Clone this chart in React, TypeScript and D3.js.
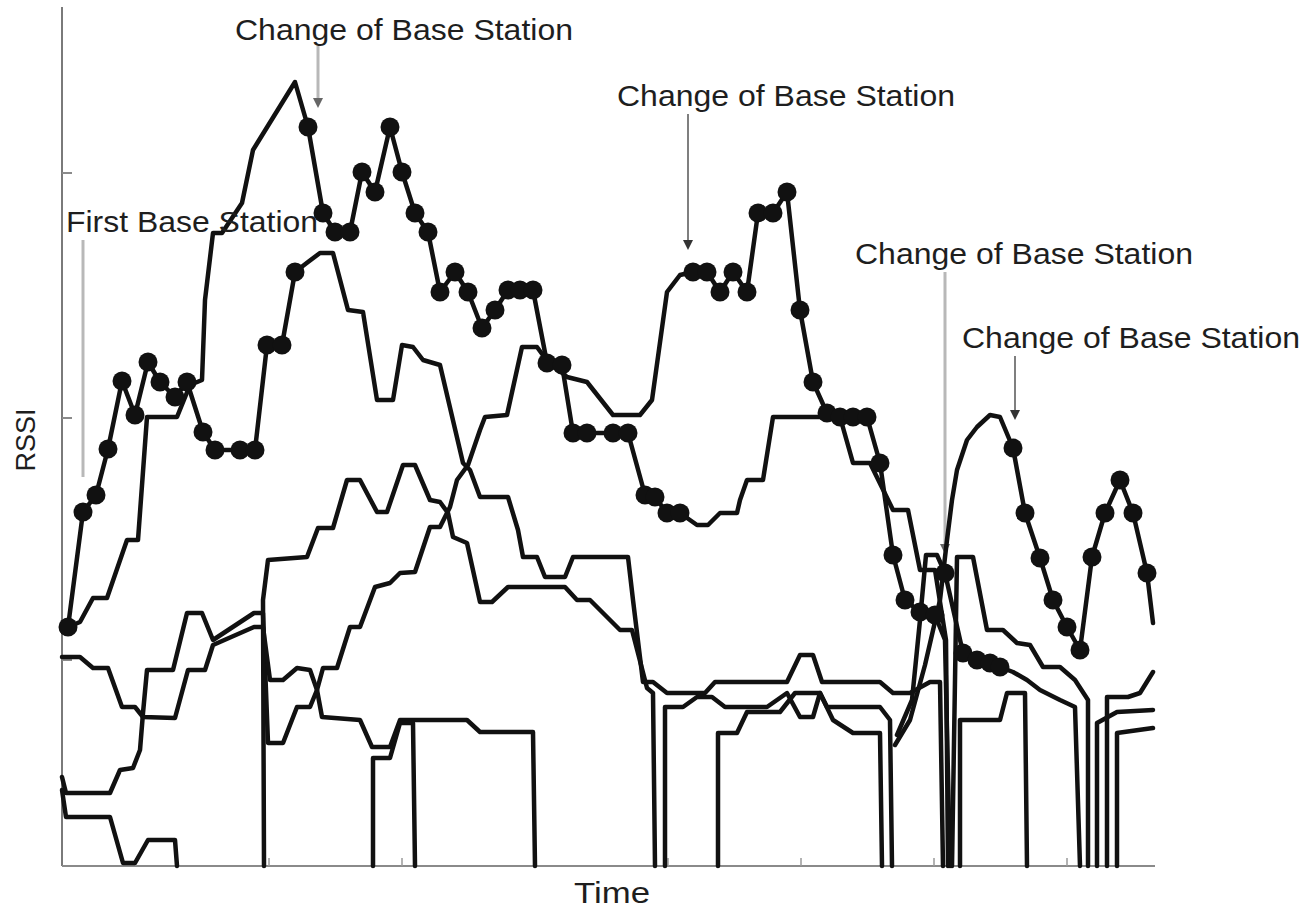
import React from "react";
import * as d3 from "d3";

type P = [number, number];

// time (x) in 0.1 s units, RSSI (y) in dB above the floor
const stationA: P[] = [[0.1,23.4],[0.6,23.9],[2.1,35.4],[3.4,37.1],[4.6,41.7],[6.0,48.5],[7.3,45.1],[8.6,50.4],[9.8,48.4],[11.3,46.9],[12.5,48.4],[14.1,43.4],[15.3,41.6],[17.8,41.6],[19.3,41.6],[20.5,52.1],[22.0,52.1],[23.3,59.4],[24.6,60.4],[25.8,61.3],[27.1,61.3],[28.6,55.6],[30.1,55.4],[31.5,46.6],[33.1,46.6],[34.0,52.1],[35.1,51.9],[36.1,50.6],[37.8,50.1],[40.1,40.3],[40.8,39.6],[41.8,36.9],[44.6,36.9],[45.6,33.6],[46.1,30.9],[47.5,30.9],[48.3,28.9],[50.3,28.9],[51.1,30.9],[56.6,30.9],[57.1,26.6],[58.1,18.4],[59.1,18.4],[60.5,17.3],[64.3,17.3],[65.3,18.4],[67.8,18.4],[72.5,18.4],[73.8,21.1],[75.1,21.1],[76.0,18.4],[81.8,18.4],[83.1,17.3],[84.8,17.3],[86.8,18.4],[87.8,18.4],[88.1,0]];
const stationB: P[] = [[0.1,23.4],[0.6,23.9],[1.8,24.4],[3.1,26.8],[4.5,26.8],[6.5,32.6],[7.6,32.6],[8.5,44.9],[11.5,44.9],[12.8,48.1],[14.0,48.6],[14.3,56.6],[15.1,63.3],[16.0,63.3],[18.0,66.3],[19.1,71.6],[23.3,78.4],[24.6,73.9],[26.1,65.3],[27.3,63.4],[28.8,63.4],[30.0,69.4],[31.3,67.4],[32.8,73.9],[34.0,69.4],[35.3,65.3],[36.6,63.4],[37.8,57.4],[39.3,59.4],[40.6,57.4],[42.0,53.8],[43.3,55.6],[44.6,57.6],[45.8,57.6],[47.1,57.6],[48.5,50.3],[50.0,50.1],[51.1,43.3],[52.5,43.3],[55.1,43.3],[56.6,43.3],[58.3,37.1],[59.3,36.9],[60.5,35.3],[61.8,35.3],[63.5,34.1],[64.6,34.1],[65.8,35.3],[67.5,35.3],[67.8,36.6],[68.5,38.6],[70.1,38.6],[71.1,44.9],[75.1,44.9],[77.8,44.9],[79.1,40.3],[80.8,40.3],[83.1,35.6],[84.6,35.6],[85.8,29.6],[87.3,29.6],[88.4,22.6],[88.6,0]];
const stationC: P[] = [[0.0,8.9],[0.4,7.3],[4.8,7.3],[5.8,9.6],[7.1,9.8],[7.8,11.6],[8.1,15.3],[8.5,19.6],[11.1,19.6],[12.5,25.3],[14.0,25.3],[15.1,22.6],[19.2,25.3],[20.1,25.3],[20.6,12.3],[22.1,12.3],[23.5,15.9],[24.8,15.9],[25.5,17.6],[26.1,19.8],[27.5,19.8],[28.8,23.9],[29.8,23.9],[31.3,27.9],[32.8,28.3],[33.8,29.3],[35.3,29.4],[36.8,33.9],[37.8,33.9],[38.8,35.9],[39.5,38.6],[40.6,40.1],[41.8,43.6],[42.3,44.9],[44.5,45.1],[46.0,51.9],[47.5,51.9],[48.3,50.8],[50.5,48.9],[52.5,48.4],[55.1,45.1],[57.8,45.1],[59.0,46.6],[60.5,57.4],[61.8,59.1],[63.1,59.4],[64.5,59.4],[65.8,57.4],[67.1,59.4],[68.5,57.4],[69.6,65.3],[71.1,65.3],[72.5,67.4],[73.8,55.6],[75.1,48.4],[76.5,45.3],[77.8,44.9],[79.1,44.9],[80.5,44.9],[81.8,40.3],[83.1,31.1],[84.3,26.6],[85.8,25.4],[87.3,25.1],[88.3,22.6],[88.8,0]];
const stationD: P[] = [[83.5,13.1],[85.0,16.6],[85.8,24.6],[86.4,31.1],[87.5,31.1],[88.3,29.3],[90.1,21.3],[91.5,20.6],[92.8,20.3],[93.8,19.9],[95.1,19.4],[96.5,18.6],[97.8,17.6],[99.8,16.6],[101.3,15.9],[101.8,0]];
const stationE: P[] = [[83.3,12.1],[84.8,14.6],[86.3,20.1],[87.8,26.6],[88.5,32.6],[89.0,36.6],[89.5,39.6],[90.5,42.6],[91.5,43.9],[92.8,45.1],[93.8,44.9],[95.1,41.8],[96.3,35.3],[97.8,30.8],[99.1,26.6],[100.5,23.9],[101.8,21.6],[103.0,30.9],[104.3,35.3],[105.8,38.6],[107.1,35.3],[108.5,29.3],[109.1,24.3]];
const stationF: P[] = [[89.0,0],[89.5,30.9],[91.1,30.9],[92.5,23.6],[94.1,23.6],[95.5,22.3],[96.8,22.1],[98.1,19.9],[99.8,19.9],[101.3,18.6],[102.6,16.6],[102.6,0]];
const stationG: P[] = [[20.2,0],[20.1,26.6],[20.6,30.6],[24.5,30.9],[25.6,33.8],[27.1,33.8],[28.5,38.6],[29.8,38.6],[31.5,35.4],[32.5,35.4],[34.1,40.1],[35.3,40.1],[36.8,36.6],[37.8,36.4],[38.6,35.3],[39.1,32.9],[40.5,32.3],[41.8,26.4],[43.0,26.4],[44.6,27.9],[50.3,27.9],[51.5,26.6],[52.8,26.6],[55.8,23.6],[57.0,23.6],[58.5,17.8],[59.1,17.3],[59.3,0]];
const stationQ: P[] = [[0.0,20.9],[1.8,20.9],[3.1,19.8],[4.6,19.8],[6.0,15.9],[7.3,15.9],[8.1,14.9],[11.3,14.8],[12.6,19.6],[14.3,19.6],[15.1,22.1],[19.2,23.9],[20.1,23.9],[20.8,18.6],[22.1,18.6],[23.5,19.8],[24.8,19.6],[25.5,17.6],[26.0,14.9],[29.8,14.6],[31.0,11.9],[32.8,11.9],[33.8,14.6],[40.5,14.6],[41.8,13.4],[47.1,13.4],[47.3,0]];
const stationR: P[] = [[0.0,7.6],[0.4,4.9],[4.8,4.9],[6.1,0.3],[7.3,0.3],[8.6,2.6],[11.3,2.6],[11.5,0]];
const stationS: P[] = [[31.1,0],[31.1,10.8],[32.8,10.8],[33.8,14.3],[35.1,14.3],[35.3,0]];
const stationU: P[] = [[60.3,0],[60.3,15.9],[62.1,15.9],[63.5,16.9],[65.0,16.9],[66.3,15.9],[70.5,15.9],[72.5,17.3],[73.8,14.9],[75.1,14.9],[75.8,17.3],[76.5,15.9],[81.8,15.9],[82.8,14.6],[83.0,0]];
const stationV: P[] = [[65.6,0],[65.6,13.3],[67.5,13.3],[68.5,15.4],[71.8,15.4],[73.3,17.3],[75.8,17.3],[77.1,14.6],[79.1,13.3],[81.8,13.3],[82.0,0]];
const stationW: P[] = [[89.8,0],[89.8,14.6],[93.8,14.6],[94.5,17.3],[96.3,17.3],[96.5,0]];
const stationK1: P[] = [[104.5,0],[104.5,16.9],[106.6,16.9],[107.8,17.3],[109.1,19.4]];
const stationK2: P[] = [[103.5,0],[103.5,14.3],[105.5,15.4],[109.1,15.6]];
const stationK3: P[] = [[105.5,0],[105.5,13.3],[109.1,13.8]];

const allStations: P[][] = [stationA, stationB, stationC, stationD, stationE, stationF, stationG, stationQ, stationR, stationS, stationU, stationV, stationW, stationK1, stationK2, stationK3];

// serving station intervals (dots)
const servingStations: P[][] = [stationA, stationB, stationC, stationD, stationE];
const servingFrom = [0.6, 24.6, 63.1, 88.3, 95.1];
const servingTo = [23.3, 61.8, 87.3, 93.8, 108.5];

const xTicks = [7.4, 20.7, 34.0, 47.3, 60.6, 73.9, 87.2, 100.5];
const yTicks = [20.6, 44.8, 69.3];

// annotations: handover time, arrow tip value
const annLabels = ["Change of Base Station", "Change of Base Station", "Change of Base Station", "Change of Base Station", "First Base Station"];
const annTime = [25.6, 62.6, 88.3, 95.3, 2.1];
const annTip = [75.8, 61.6, 31.2, 44.6, 38.9];

export default function App() {
  const W = 1307, H = 910;
  const x = d3.scaleLinear().domain([0, 109.3]).range([62, 1155]);
  const y = d3.scaleLinear().domain([0, 85.9]).range([866, 7]);
  const line = d3.line<P>().x(d => x(d[0])).y(d => y(d[1]));

  const dots: P[] = [];
  servingStations.forEach((s, i) => {
    s.forEach(p => { if (p[0] >= servingFrom[i] - 1e-6 && p[0] <= servingTo[i] + 1e-6) dots.push(p); });
  });

  const annLayout = [
    { lx: 235, ly: 40, top: 46, w: 338, kind: "light" },
    { lx: 617, ly: 106, top: 114, w: 338, kind: "dark" },
    { lx: 855, ly: 264, top: 272, w: 338, kind: "light" },
    { lx: 962, ly: 348, top: 356, w: 338, kind: "dark" },
    { lx: 66, ly: 232, top: 240, w: 252, kind: "light" },
  ];

  return (
    <svg width={W} height={H} style={{ position: "absolute", left: 0, top: 0, background: "#fff" }}
      fontFamily="'Liberation Sans', Arial, Helvetica, sans-serif">
      <rect x={0} y={0} width={W} height={H} fill="#fff" />
      {/* axes */}
      <line x1={x(0)} x2={x(0)} y1={y(85.9)} y2={y(0)} stroke="#7a7a7a" strokeWidth={2} />
      <line x1={x(0)} x2={x(109.3)} y1={y(0)} y2={y(0)} stroke="#8a8a8a" strokeWidth={2} />
      {yTicks.map((t, i) => (
        <line key={"yt" + i} x1={x(0)} x2={x(0) + 10} y1={y(t)} y2={y(t)} stroke="#8a8a8a" strokeWidth={2} />
      ))}
      {xTicks.map((t, i) => (
        <line key={"xt" + i} x1={x(t)} x2={x(t)} y1={y(0)} y2={y(0) - 8} stroke="#9a9a9a" strokeWidth={1.5} />
      ))}

      {/* annotation arrows */}
      {annLayout.map((a, i) => {
        const ax = x(annTime[i]);
        const tipY = y(annTip[i]);
        const light = a.kind === "light";
        return (
          <g key={"ar" + i}>
            <line x1={ax} x2={ax} y1={a.top} y2={tipY - (i === 4 ? 0 : 6)} stroke={light ? "#b8b8b8" : "#555"} strokeWidth={light ? 3 : 1.5} />
            {i !== 4 && (
              <path d={`M${ax - 5},${tipY - 10} L${ax + 5},${tipY - 10} L${ax},${tipY} Z`} fill={light ? "#666" : "#333"} />
            )}
          </g>
        );
      })}

      {/* station curves */}
      {allStations.map((s, i) => (
        <path key={"s" + i} d={line(s) || ""} fill="none" stroke="#111" strokeWidth={4.5} strokeLinejoin="round" strokeLinecap="round" />
      ))}

      {/* serving station samples */}
      {dots.map((d, i) => (
        <circle key={"d" + i} cx={x(d[0])} cy={y(d[1])} r={9.5} fill="#111" />
      ))}

      {/* annotation labels */}
      {annLayout.map((a, i) => (
        <text key={"al" + i} x={a.lx} y={a.ly} fontSize={30} fill="#1e1e1e" textLength={a.w} lengthAdjust="spacingAndGlyphs">
          {annLabels[i]}
        </text>
      ))}

      {/* axis titles */}
      <text x={574} y={903} fontSize={30} fill="#1e1e1e" textLength={76} lengthAdjust="spacingAndGlyphs">Time</text>
      <text transform="translate(35,440) rotate(-90)" fontSize={27} fill="#1e1e1e" textAnchor="middle">RSSI</text>
    </svg>
  );
}
